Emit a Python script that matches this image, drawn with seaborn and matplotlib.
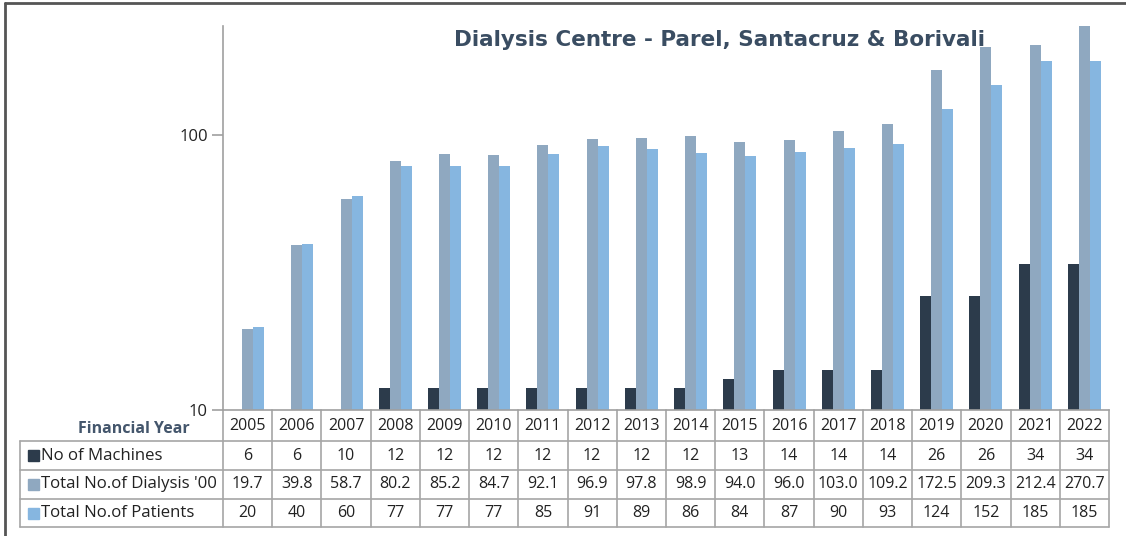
import numpy as np
import pandas as pd
import matplotlib
matplotlib.use("Agg")
import matplotlib.pyplot as plt
import matplotlib.transforms as mtransforms
from matplotlib.lines import Line2D
from matplotlib.patches import Rectangle
import seaborn as sns

years = ["2005", "2006", "2007", "2008", "2009", "2010", "2011", "2012", "2013",
         "2014", "2015", "2016", "2017", "2018", "2019", "2020", "2021", "2022"]
machines = [6, 6, 10, 12, 12, 12, 12, 12, 12, 12, 13, 14, 14, 14, 26, 26, 34, 34]
dialysis = [19.7, 39.8, 58.7, 80.2, 85.2, 84.7, 92.1, 96.9, 97.8, 98.9, 94.0, 96.0,
            103.0, 109.2, 172.5, 209.3, 212.4, 270.7]
patients = [20, 40, 60, 77, 77, 77, 85, 91, 89, 86, 84, 87, 90, 93, 124, 152, 185, 185]
series_names = ["No of Machines", "Total No.of Dialysis '00", "Total No.of Patients"]
colors = ["#2C3B4B", "#8FA8C0", "#86B6E0"]
title = "Dialysis Centre - Parel, Santacruz & Borivali"
row_label_header = "Financial Year"

sns.set_theme(style="white")
plt.rcParams["font.family"] = ["Open Sans", "DejaVu Sans"]

series_values = [machines, dialysis, patients]
df = pd.DataFrame({
    "year": np.tile(years, 3),
    "value": np.concatenate([np.asarray(v, float) for v in series_values]),
    "series": np.repeat(series_names, len(years)),
})

W, H = 1126, 536
fig = plt.figure(figsize=(W / 100, H / 100), dpi=100)
ax_l, ax_r, ax_t, ax_b = 223, 1109, 26, 410
ax = fig.add_axes([ax_l / W, 1 - ax_b / H, (ax_r - ax_l) / W, (ax_b - ax_t) / H])

sns.barplot(data=df, x="year", y="value", hue="series", palette=colors,
            order=years, hue_order=series_names, width=0.67, gap=0,
            saturation=1, legend=False, ax=ax, errorbar=None, linewidth=0)
ax.set_yscale("log")
ax.set_ylim(10, 249)
ax.set_xlim(-0.5, len(years) - 0.5)
ax.set_yticks([10, 100])
ax.set_yticklabels(["10", "100"])
ax.yaxis.set_minor_locator(matplotlib.ticker.NullLocator())
ax.set_xticks([])
ax.set_xlabel("")
ax.set_ylabel("")
for s in ["top", "right"]:
    ax.spines[s].set_visible(False)
for s in ["left", "bottom"]:
    ax.spines[s].set_color("#A0A0A0")
    ax.spines[s].set_linewidth(1.2)
ax.tick_params(axis="y", which="major", left=True, length=8, width=1.2,
               color="#A0A0A0", labelsize=12, labelcolor="#222222", pad=3)

# Data table below the axes (x in data coords, y in axes fraction)
px = lambda p: (ax_b - p) / (ax_b - ax_t)
row_edges = [px(410), px(441), px(470), px(499), px(527)]
trans = mtransforms.blended_transform_factory(ax.transData, ax.transAxes)
gcol = "#A6A6A6"
lbl_left = (20 - ax_l) / (ax_r - ax_l)
n = len(years)
for i, y in enumerate(row_edges):
    if i == 0:
        continue
    ax.add_line(Line2D([lbl_left, 1], [y, y], transform=ax.transAxes, color=gcol,
                       lw=1.2, clip_on=False))
for k in range(n + 1):
    ax.add_line(Line2D([k - 0.5, k - 0.5], [row_edges[0], row_edges[-1]],
                       transform=trans, color=gcol, lw=1.2, clip_on=False))
ax.add_line(Line2D([lbl_left, lbl_left], [row_edges[1], row_edges[-1]],
                   transform=ax.transAxes, color=gcol, lw=1.2, clip_on=False))

fs = 11.5
for k, yr in enumerate(years):
    yc = (row_edges[0] + row_edges[1]) / 2
    ax.text(k, yc, yr, transform=trans, ha="center", va="center", fontsize=fs,
            color="#222222", clip_on=False)
    for r, vals in enumerate(series_values):
        yc = (row_edges[r + 1] + row_edges[r + 2]) / 2
        v = vals[k]
        txt = f"{v:.1f}" if r == 1 else f"{int(v)}"
        ax.text(k, yc, txt, transform=trans, ha="center", va="center",
                fontsize=fs, color="#222222", clip_on=False)

ax.text((190 - ax_l) / (ax_r - ax_l), (row_edges[0] + row_edges[1]) / 2 - 0.008,
        row_label_header, transform=ax.transAxes, ha="right", va="center",
        fontsize=11.5, fontweight="bold", color="#44566C", clip_on=False)

sq = 11
for r, name in enumerate(series_names):
    yc_px = (row_edges[r + 1] + row_edges[r + 2]) / 2
    ypix = ax_b - yc_px * (ax_b - ax_t)
    fig.patches.append(Rectangle((28 / W, 1 - (ypix + sq / 2) / H), sq / W, sq / H,
                                 transform=fig.transFigure, color=colors[r]))
    ax.text((41 - ax_l) / (ax_r - ax_l), yc_px, name, transform=ax.transAxes,
            ha="left", va="center", fontsize=12.1, color="#222222", clip_on=False)

fig.text(720 / W, 1 - 40 / H, title, ha="center", va="center", fontsize=15.5,
         fontweight="bold", color="#3A4D62", family=["DejaVu Sans"])

fig.add_artist(Line2D([5 / W, 1], [1 - 3 / H, 1 - 3 / H], transform=fig.transFigure,
                      color="#555555", lw=2))
fig.add_artist(Line2D([5 / W, 5 / W], [0, 1 - 3 / H], transform=fig.transFigure,
                      color="#555555", lw=2))

fig.savefig("out.png", dpi=100)
